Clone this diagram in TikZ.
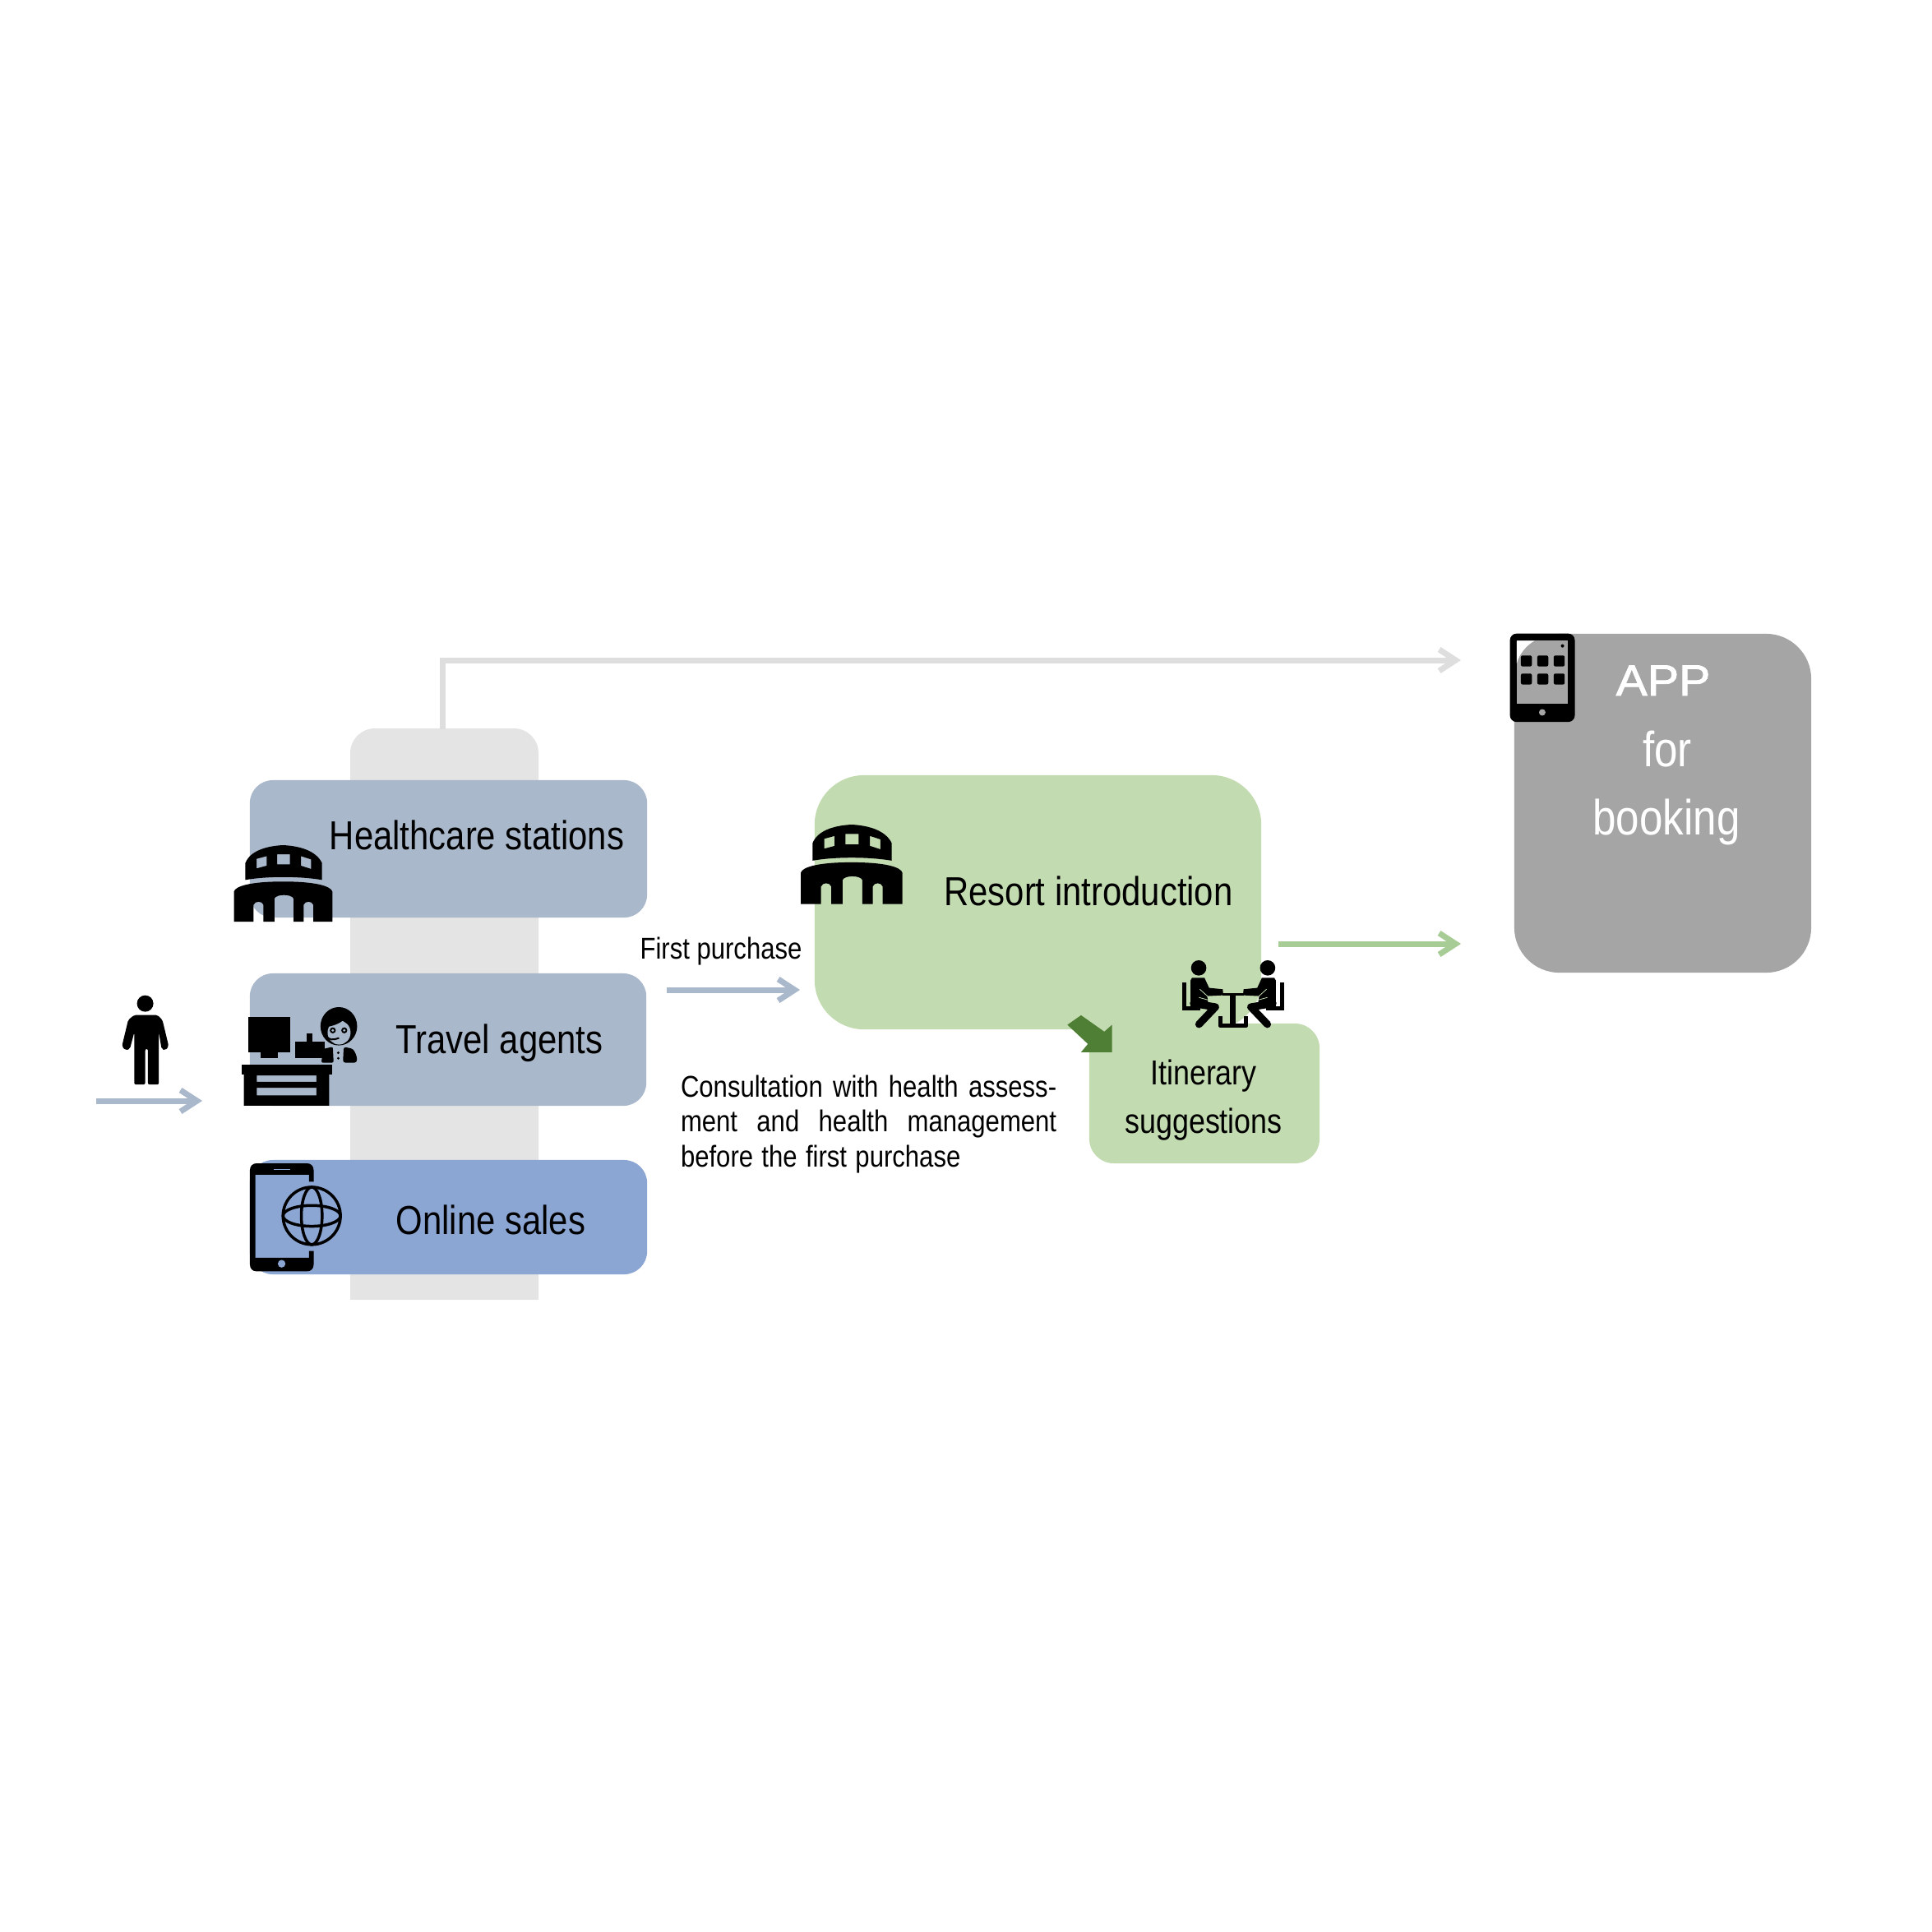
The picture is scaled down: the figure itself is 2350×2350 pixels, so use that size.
\documentclass[tikz,border=0pt]{standalone}
\usepackage{graphicx}
\usepackage{fontspec}
\usetikzlibrary{arrows.meta}
\setmainfont{Liberation Sans}
\newfontfamily\widef[FakeBold=1.5]{Liberation Sans}
\newcommand{\cn}[1]{\scalebox{0.85}[1]{#1}}
\definecolor{boxblue}{HTML}{AAB8CB}
\definecolor{boxonline}{HTML}{8CA6D3}
\definecolor{colgray}{HTML}{E4E4E4}
\definecolor{linegray}{HTML}{DEDEDE}
\definecolor{boxgreen}{HTML}{C3DBB0}
\definecolor{linegreen}{HTML}{A8CC96}
\definecolor{boxgray}{HTML}{A5A5A5}
\definecolor{darkgreen}{HTML}{4F7F35}
\tikzset{
  x=0.01cm,y=-0.01cm,
  panel/.style={draw=none,inner sep=0pt,outer sep=0pt,rounded corners=0.28cm},
  txt/.style={inner sep=0pt,outer sep=0pt,anchor=base},
  big/.style={txt,font=\fontsize{14.0}{17}\selectfont},
  mid/.style={txt,font=\fontsize{12.0}{15}\selectfont},
  small/.style={txt,font=\fontsize{10.4}{12.1}\selectfont},
  appt/.style={txt,text=white,font=\fontsize{17.1}{20}\selectfont},
  flow/.style={line width=0.07cm,-{Straight Barb[length=0.2cm,width=0.26cm,line width=0.07cm]}},
  zm/.style={x=0.0033333cm,y=-0.0033333cm},
}
\newcommand{\buildingicon}{%
  \fill[black,even odd rule]
    (42,127) -- (42,65) .. controls (60,20) and (120,3) .. (180,0) .. controls (240,3) and (300,20) .. (322,65) -- (322,127) .. controls (240,113) and (120,113) .. (42,127) -- cycle
    (158,33) -- (205,33) -- (205,70) -- (158,70) -- cycle
    (83,50) -- (120,40) -- (120,75) -- (83,85) -- cycle
    (245,40) -- (282,52) -- (282,87) -- (245,75) -- cycle;
  \fill[black]
    (0,170) .. controls (5,150) and (60,133) .. (180,133) .. controls (300,133) and (355,150) .. (360,170)
    -- (360,280) -- (290,280) -- (290,218) .. controls (285,203) and (260,203) .. (255,218) -- (255,280) -- (218,280) -- (218,195) .. controls (210,178) and (156,178) .. (148,195) -- (148,280) -- (108,280) -- (108,218) .. controls (103,203) and (77,203) .. (72,218) -- (72,280) -- (0,280) -- cycle;
}
\newcommand{\seatedperson}{%
  \fill[black] (-126,82) circle[radius=28];
  \fill[black] (-156,128) -- (-150,118) -- (-105,118) -- (-88,155) -- (-38,160) -- (-36,182) -- (-95,185) -- (-90,218) -- (-156,222) -- cycle;
  \draw[black,line width=0.09cm,line cap=round,line join=round] (-145,212) -- (-65,225) -- (-125,288);
  \fill[black] (-186,135) rectangle (-170,236);
  \fill[black] (-186,222) rectangle (-120,236);
  \draw[boxgreen,line width=0.008cm] (-122,160) -- (-72,205);
  \draw[boxgreen,line width=0.008cm] (-125,190) -- (-60,208);
}
\begin{document}
\begin{tikzpicture}
\useasboundingbox (0,0) rectangle (2350,2350);
\fill[white] (0,0) rectangle (2350,2350);

% grey column
\fill[colgray,rounded corners=0.3cm] (426,1620) -- (426,886) -- (655,886) -- (655,1620) -- cycle;
\fill[white] (420,1581) rectangle (660,1640);
\coordinate (colTop) at (538,887);
\coordinate (appIn) at (1777,803);
\coordinate (personFrom) at (117,1339);
\coordinate (personTo) at (246,1339);
\coordinate (fpFrom) at (811,1204);
\coordinate (fpTo) at (973,1204);
\coordinate (greenFrom) at (1555,1148);
\coordinate (greenTo) at (1777,1148);

% connectors
\draw[flow,linegray] (colTop) |- (appIn);
\draw[flow,boxblue] (personFrom) -- (personTo);
\draw[flow,boxblue] (fpFrom) -- (fpTo);
\draw[flow,linegreen] (greenFrom) -- (greenTo);

% panels
\node[panel,fill=boxblue,minimum width=4.83cm,minimum height=1.67cm] (hs) at (545.5,1032.5) {};
\node[panel,fill=boxblue,minimum width=4.82cm,minimum height=1.61cm] (ta) at (545,1264.5) {};
\node[panel,fill=boxonline,minimum width=4.83cm,minimum height=1.39cm] (os) at (545.5,1480.5) {};
\node[panel,fill=boxgreen,rounded corners=0.6cm,minimum width=5.43cm,minimum height=3.09cm] (ri) at (1262.5,1097.5) {};
\node[panel,fill=boxgreen,rounded corners=0.3cm,minimum width=2.80cm,minimum height=1.70cm] (it) at (1465,1330) {};
\node[panel,fill=boxgray,rounded corners=0.55cm,minimum width=3.61cm,minimum height=4.12cm] (app) at (2022.5,977) {};

% labels
\node[big] (hsl) at (580,1033) {\cn{Healthcare stations}};
\node[big] (tal) at (607.5,1281) {\cn{Travel agents}};
\node[big] (osl) at (597,1501) {\cn{Online sales}};
\node[big] (ril) at (1324,1101) {\cn{Resort introduction}};
\node[small] (fpl) at (877,1166) {\cn{First purchase}};
\node[inner sep=0pt,outer sep=0pt,anchor=north west,text width=4.57cm,align=left,font=\fontsize{10.4}{12.1}\selectfont] (cons) at (828,1307.5)
  {\scalebox{0.85}[1]{\hbox to 5.376cm{Consultation\hfill with\hfill health\hfill assess-}}\\
   \scalebox{0.85}[1]{\hbox to 5.376cm{ment\hfill and\hfill health\hfill management}}\\
   \cn{before the first purchase}};
\node[mid] (itl1) at (1464,1319) {\cn{Itinerary}};
\node[mid] (itl2) at (1464,1378) {\cn{suggestions}};
\node[txt,text=white,font=\widef\fontsize{15.1}{18}\selectfont] (a1) at (2023,846) {\scalebox{1.08}[1]{APP}};
\node[appt] (a2) at (2028,932) {\cn{for}};
\node[appt] (a3) at (2027,1015) {\cn{booking}};

% dark green arrow and meeting icon
\begin{scope}[shift={(1280,1150)},zm]
  \fill[darkgreen] (55,290) -- (105,255) -- (190,315) -- (218,290) -- (218,390) -- (105,390) -- (130,360) -- cycle;
  \begin{scope}[shift={(661,0)}]
    \seatedperson
    \begin{scope}[xscale=-1]\seatedperson\end{scope}
    \fill[black] (-40,175) rectangle (40,184);
    \fill[black] (-11,175) rectangle (10,285);
    \draw[black,line width=0.05cm,line join=round] (-48,258) -- (-48,293) -- (48,293) -- (48,258);
  \end{scope}
\end{scope}

% building icons
\begin{scope}[shift={(284.5,1028)},zm]\buildingicon\end{scope}
\begin{scope}[shift={(974,1003)},x=0.003426cm,y=-0.003452cm]\buildingicon\end{scope}

% person
\begin{scope}[shift={(130,1200)},zm]
  \fill[black] (140,62) circle[radius=30];
  \fill[black,rounded corners=0.02cm] (100,104) -- (185,104) -- (203,122) -- (226,218) -- (214,233) -- (200,228) -- (190,168) -- (190,358) -- (150,358) -- (150,228) -- (140,228) -- (140,358) -- (100,358) -- (100,168) -- (84,228) -- (68,233) -- (55,218) -- (78,122) -- cycle;
\end{scope}

% travel agent icon
\begin{scope}[shift={(280,1210)},zm]
  \fill[black] (65,80) rectangle (220,210);
  \fill[black] (110,205) rectangle (175,232);
  \fill[black] (42,255) rectangle (372,292);
  \fill[black,even odd rule] (50,285) rectangle (362,405)
     (97,295) rectangle (315,318) (97,340) rectangle (315,368);
  \fill[black] (238,170) rectangle (345,232);
  \fill[black] (280,140) rectangle (300,175);
  % agent
  \fill[black] (397,115) ellipse[x radius=67,y radius=70];
  \fill[boxblue] (398,138) ellipse[x radius=42,y radius=44];
  \fill[black] (352,118) .. controls (385,112) and (410,100) .. (420,85) .. controls (430,100) and (438,112) .. (445,125) -- (445,70) -- (355,70) -- cycle;
  \fill[black] (375,130) circle[radius=11];
  \fill[black] (417,130) circle[radius=11];
  \fill[boxblue] (375,130) circle[radius=5];
  \fill[boxblue] (417,130) circle[radius=5];
  \draw[black,line width=0.02cm] (350,148) .. controls (360,168) and (378,165) .. (398,158);
  \fill[black,rounded corners=0.02cm] (333,248) -- (340,198) -- (375,190) -- (378,248) -- cycle;
  \fill[black,rounded corners=0.03cm] (412,248) -- (415,190) -- (450,198) -- (463,225) -- (463,248) -- cycle;
  \fill[black] (395,212) circle[radius=5];
  \fill[black] (395,232) circle[radius=5];
\end{scope}

% phone icon
\begin{scope}[shift={(290,1405)},zm]
  \fill[black] (258,97) -- (275,97) -- (275,55) .. controls (275,40) and (265,30) .. (250,30) -- (67,30) .. controls (52,30) and (42,40) .. (42,55) -- (42,400) .. controls (42,415) and (52,425) .. (67,425) -- (250,425) .. controls (265,425) and (275,415) .. (275,400) -- (275,350) -- (258,350) -- (258,375) -- (62,375) -- (62,72) -- (258,72) -- cycle;
  \draw[boxonline,line width=0.015cm] (130,52) -- (190,52);
  \fill[boxonline] (158,397) circle[radius=14];
  \draw[black,line width=0.035cm] (268,222) circle[radius=105];
  \draw[black,line width=0.035cm] (268,222) ellipse[x radius=38,y radius=105];
  \draw[black,line width=0.035cm] (268,222) ellipse[x radius=105,y radius=38];
\end{scope}

% tablet icon
\begin{scope}[shift={(1825,760)},zm]
  \fill[black,rounded corners=0.08cm] (35,32) rectangle (272,355);
  \fill[boxgray] (60,58) rectangle (245,288);
  \fill[white] (60,58) -- (125,58) .. controls (95,75) and (70,105) .. (60,140) -- cycle;
  \foreach \cx in {95,155,215}{
    \foreach \cy in {132,198}{
      \fill[black,rounded corners=0.02cm] (\cx-20,\cy-20) rectangle (\cx+20,\cy+20);
    }
  }
  \fill[black] (227,77) circle[radius=6];
  \fill[boxgray] (153,320) circle[radius=12];
\end{scope}
\end{tikzpicture}
\end{document}
